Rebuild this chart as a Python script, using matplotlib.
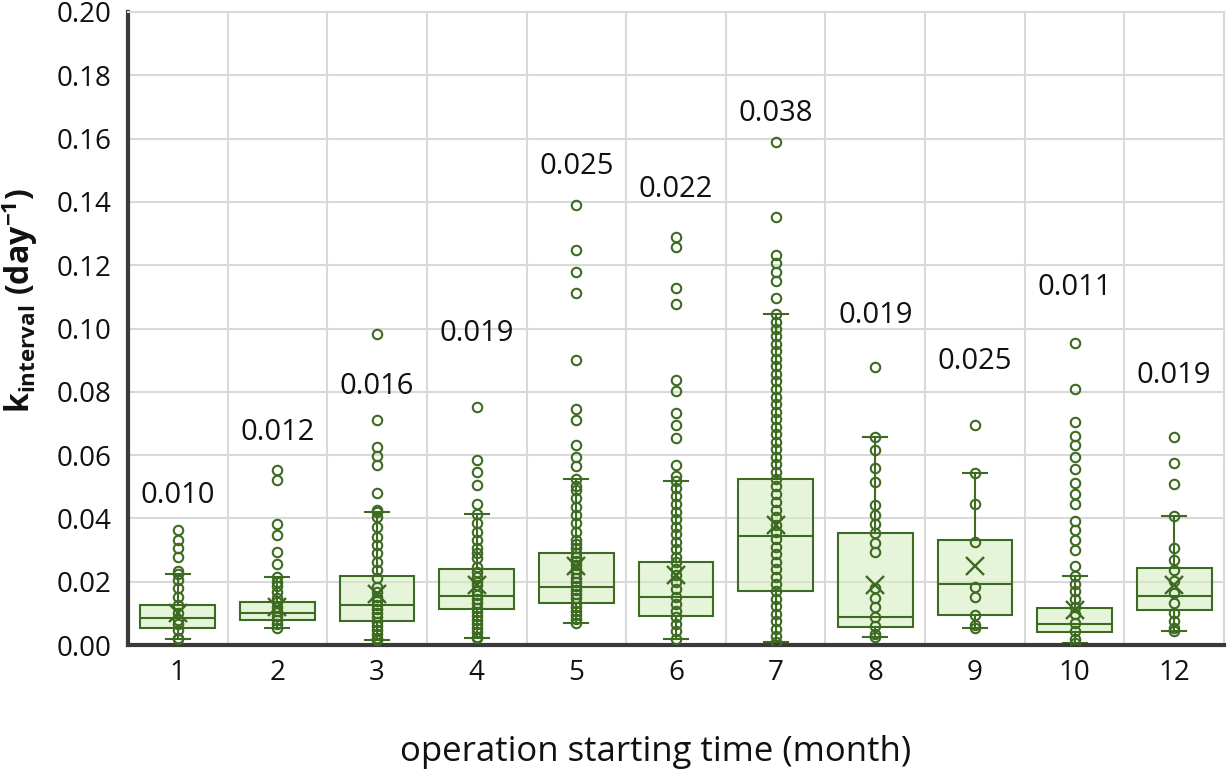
import matplotlib
matplotlib.use('Agg')
import matplotlib.pyplot as plt
import numpy as np

plt.rcParams['font.family'] = ['Open Sans', 'DejaVu Sans']
plt.rcParams['mathtext.fontset'] = 'custom'
plt.rcParams['mathtext.rm'] = 'Open Sans'
plt.rcParams['mathtext.bf'] = 'Open Sans:bold'
plt.rcParams['mathtext.it'] = 'Open Sans:italic'

# ---------------- data ----------------
months = ['1', '2', '3', '4', '5', '6', '7', '8', '9', '10', '12']
whislo = [0.0019, 0.0053, 0.0016, 0.0021, 0.0068, 0.0019, 0.0011, 0.0026, 0.0053, 0.0007, 0.0044]
q1     = [0.0055, 0.0079, 0.0077, 0.0113, 0.0134, 0.0092, 0.0171, 0.0056, 0.0095, 0.0041, 0.0112]
med    = [0.0084, 0.0101, 0.0126, 0.0155, 0.0184, 0.0152, 0.0344, 0.0087, 0.0193, 0.0065, 0.0154]
q3     = [0.0126, 0.0136, 0.0218, 0.0239, 0.0292, 0.0263, 0.0524, 0.0353, 0.0332, 0.0117, 0.0244]
whishi = [0.0224, 0.0216, 0.0419, 0.0414, 0.0523, 0.0518, 0.1045, 0.0658, 0.0545, 0.0219, 0.0408]
means  = [0.010, 0.012, 0.016, 0.019, 0.025, 0.022, 0.038, 0.019, 0.025, 0.011, 0.019]

pts_m1 = [0.0363, 0.0332, 0.0305, 0.0279, 0.0234, 0.0224, 0.0205, 0.0179, 0.0153, 0.0126,
          0.0100, 0.0079, 0.0065, 0.0047, 0.0021, 0.0019]
pts_m2 = [0.0553, 0.0521, 0.0381, 0.0349, 0.0295, 0.0256, 0.0216, 0.0200, 0.0185, 0.0168,
          0.0150, 0.0135, 0.0120, 0.0107, 0.0093, 0.0079, 0.0065, 0.0053]
pts_m3 = [0.0982, 0.0711, 0.0626, 0.0598, 0.0568, 0.0481, 0.0428, 0.0419, 0.0405, 0.0374,
          0.0342, 0.0316, 0.0290, 0.0263, 0.0237, 0.0211, 0.0184, 0.0168, 0.0153, 0.0140,
          0.0126, 0.0113, 0.0100, 0.0087, 0.0074, 0.0060, 0.0047, 0.0034, 0.0021, 0.0016]
pts_m4 = [0.0753, 0.0584, 0.0547, 0.0505, 0.0447, 0.0414, 0.0384, 0.0358, 0.0332, 0.0305,
          0.0290, 0.0274, 0.0247, 0.0230, 0.0216, 0.0200, 0.0189, 0.0172, 0.0158, 0.0145,
          0.0132, 0.0118, 0.0105, 0.0092, 0.0079, 0.0066, 0.0053, 0.0040, 0.0026, 0.0021]
pts_m5 = [0.1390, 0.1247, 0.1179, 0.1113, 0.0900, 0.0747, 0.0711, 0.0632, 0.0595, 0.0565,
          0.0523, 0.0502, 0.0489, 0.0463, 0.0437, 0.0411, 0.0384, 0.0358, 0.0332, 0.0318,
          0.0305, 0.0292, 0.0279, 0.0265, 0.0253, 0.0240, 0.0226, 0.0213, 0.0200, 0.0187,
          0.0174, 0.0160, 0.0147, 0.0134, 0.0121, 0.0108, 0.0095, 0.0082, 0.0068]
pts_m6 = [0.1290, 0.1256, 0.1127, 0.1078, 0.0837, 0.0803, 0.0732, 0.0696, 0.0654, 0.0569,
          0.0535, 0.0518, 0.0495, 0.0470, 0.0446, 0.0421, 0.0398, 0.0374, 0.0350, 0.0326,
          0.0302, 0.0279, 0.0263, 0.0240, 0.0221, 0.0200, 0.0178, 0.0152, 0.0130, 0.0108,
          0.0089, 0.0066, 0.0043, 0.0019]
pts_m7 = [0.1589, 0.1352, 0.1232, 0.1206, 0.1177, 0.1149, 0.1096, 0.1045, 0.1022, 0.0997,
          0.0975, 0.0950, 0.0928, 0.0903, 0.0880, 0.0855, 0.0833, 0.0808, 0.0785, 0.0760,
          0.0737, 0.0714, 0.0689, 0.0667, 0.0641, 0.0619, 0.0594, 0.0572, 0.0546, 0.0524,
          0.0501, 0.0476, 0.0453, 0.0428, 0.0406, 0.0380, 0.0358, 0.0334, 0.0309, 0.0287,
          0.0262, 0.0240, 0.0214, 0.0192, 0.0171, 0.0146, 0.0124, 0.0099, 0.0077, 0.0052,
          0.0030, 0.0011]
pts_m8 = [0.0877, 0.0658, 0.0616, 0.0558, 0.0516, 0.0442, 0.0411, 0.0382, 0.0353, 0.0323,
          0.0295, 0.0179, 0.0149, 0.0121, 0.0089, 0.0060, 0.0035, 0.0026]
pts_m9 = [0.0695, 0.0545, 0.0444, 0.0324, 0.0182, 0.0151, 0.0095, 0.0062, 0.0053]
pts_m10 = [0.0954, 0.0808, 0.0706, 0.0660, 0.0632, 0.0593, 0.0556, 0.0511, 0.0478, 0.0445,
           0.0391, 0.0362, 0.0333, 0.0301, 0.0251, 0.0219, 0.0193, 0.0170, 0.0144, 0.0121,
           0.0097, 0.0070, 0.0044, 0.0018, 0.0007]
pts_m12 = [0.0658, 0.0576, 0.0509, 0.0408, 0.0307, 0.0270, 0.0236, 0.0202, 0.0165, 0.0133,
           0.0102, 0.0076, 0.0055, 0.0044]
points = [pts_m1, pts_m2, pts_m3, pts_m4, pts_m5, pts_m6, pts_m7, pts_m8, pts_m9, pts_m10, pts_m12]

# label placement (layout)
label_y = [0.0472, 0.0670, 0.0818, 0.0985, 0.1513, 0.1438, 0.1680, 0.1040, 0.0897, 0.1128, 0.0853]

# ---------------- style ----------------
green = '#3d6b22'
grid_c = '#d9d9d9'

fig = plt.figure(figsize=(12.28, 7.74), dpi=100)
ax = fig.add_axes([128 / 1228, 1 - 645 / 774, (1224 - 128) / 1228, (645 - 12) / 774])

pos = np.arange(1, len(months) + 1)
stats = []
for i in range(len(months)):
    stats.append(dict(whislo=whislo[i], q1=q1[i], med=med[i], q3=q3[i],
                      whishi=whishi[i], mean=means[i], fliers=[]))

ax.bxp(stats, positions=pos, widths=0.75, capwidths=0.24, patch_artist=True,
       showmeans=True, meanline=False, showfliers=False,
       boxprops=dict(facecolor=(0.84, 0.93, 0.76, 0.6), edgecolor=green, linewidth=1.5),
       medianprops=dict(color=green, linewidth=1.5),
       whiskerprops=dict(color=green, linewidth=1.5),
       capprops=dict(color=green, linewidth=1.5),
       meanprops=dict(marker='x', markeredgecolor=green, markersize=13,
                      markeredgewidth=1.7, zorder=5))

for i, p in enumerate(points):
    ax.plot(np.full(len(p), pos[i]), p, 'o', ms=6.8, mfc='none', mec=green,
            mew=1.5, zorder=4)

for i in range(len(months)):
    ax.text(pos[i], label_y[i], f'{means[i]:.3f}', ha='center', va='center',
            fontsize=21, color='#111111')

ax.set_xlim(0.5, len(months) + 0.5)
ax.set_ylim(0, 0.20)
ax.set_yticks(np.arange(0, 0.2001, 0.02))
ax.yaxis.set_major_formatter(matplotlib.ticker.FormatStrFormatter('%.2f'))
ax.set_xticks(pos)
ax.set_xticklabels(months)
ax.set_xticks(pos[:-1] + 0.5, minor=True)
ax.tick_params(axis='both', which='both', length=0)
ax.tick_params(axis='y', labelsize=20, pad=12, colors='#111111')
ax.tick_params(axis='x', labelsize=20, pad=10, colors='#111111')

ax.yaxis.grid(True, color=grid_c, lw=1.5, zorder=0)
ax.xaxis.grid(True, which='minor', color=grid_c, lw=1.5, zorder=0)
ax.xaxis.grid(False, which='major')
ax.set_axisbelow(True)

for s in ['top', 'right']:
    ax.spines[s].set_color(grid_c)
    ax.spines[s].set_linewidth(1.5)
for s in ['left', 'bottom']:
    ax.spines[s].set_color('#3a3a3a')
    ax.spines[s].set_linewidth(3)

fig.text(656 / 1228, 1 - 752 / 774, 'operation starting time (month)', ha='center',
         va='center', fontsize=25, color='#111111')
fig.text(20 / 1228, 1 - 300 / 774, r'$\mathbf{k_{interval}\ (day^{-1})}$', ha='center',
         va='center', rotation=90, fontsize=23, color='#111111')

fig.savefig('out.png', dpi=100)
